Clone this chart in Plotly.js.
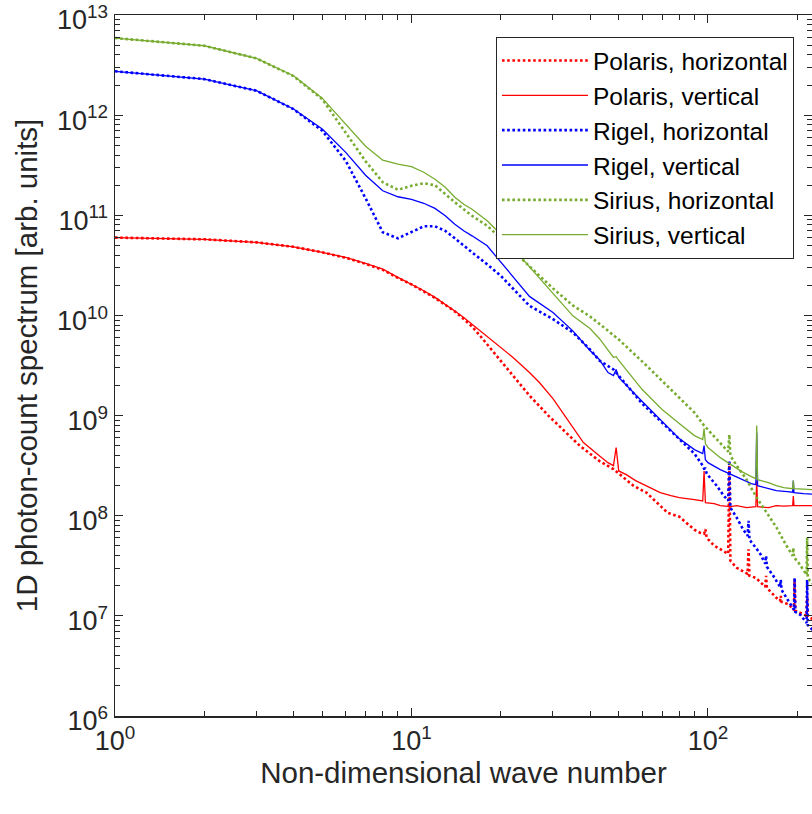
<!DOCTYPE html>
<html>
<head>
<meta charset="utf-8">
<script src="https://cdn.plot.ly/plotly-3.0.1.min.js"></script>
<style>
html,body{margin:0;padding:0;background:#fff;overflow:hidden;}
#chart{width:812px;height:814px;}
</style>
</head>
<body>
<div id="chart"></div>
<script>
// Wave numbers and log10(spectrum) values
const polarisHK = [1,2,3,4,5,6,7,8,9,10,11,12,13,14,15,16,17,18,19,21,22,25,29,37,43,48,56,62,69,73,80,90,94,97,98,99,105,110,115,117,118,119,125,135,136,137,138,145,150,156,157,158,170,175,176,177,187,195,196,197,210,215,216,217,225];
const polarisHLog = [10.777,10.76,10.73,10.685,10.63,10.575,10.515,10.455,10.375,10.31,10.24,10.175,10.105,10.04,9.965,9.89,9.80,9.71,9.63,9.47,9.40,9.20,8.997,8.697,8.547,8.465,8.30,8.23,8.10,8.03,7.99,7.86,7.83,7.82,7.865,7.78,7.70,7.665,7.63,7.62,8.53,7.55,7.48,7.43,7.42,7.665,7.40,7.38,7.34,7.29,7.40,7.28,7.18,7.15,7.20,7.14,7.115,7.06,7.366,7.05,7.016,7.00,7.20,6.99,6.97];

const polarisVK = [1,2,3,4,5,6,7,8,9,10,11,12,13,14,15,16,17,18,20,22,25,27,30,33,38,43,46,48,49,50,53,57,60,63,69,75,80,90,96,97,98,105,110,119,125,135,145,146,147,160,170,180,193,194,195,210,225];
const polarisVLog = [10.777,10.76,10.73,10.685,10.63,10.58,10.52,10.463,10.38,10.313,10.246,10.18,10.113,10.045,9.98,9.913,9.85,9.79,9.68,9.58,9.43,9.33,9.17,8.99,8.73,8.60,8.53,8.50,8.68,8.447,8.41,8.35,8.32,8.29,8.23,8.20,8.18,8.16,8.148,8.447,8.13,8.12,8.10,8.09,8.10,8.08,8.09,8.35,8.09,8.08,8.10,8.095,8.10,8.197,8.10,8.10,8.10];

const rigelHK = [1,2,3,4,5,6,7,8,9,10,11,12,13,14,15,16,18,20,25,30,35,40,43,48,60,70,78,90,96,97,98,99,107,113,117,118,119,125,131,136,137,138,145,150,156,157,158,166,175,176,177,190,195,196,197,205,215,216,217,225];
const rigelHLog = [12.438,12.36,12.244,12.06,11.844,11.544,11.17,10.83,10.77,10.835,10.89,10.89,10.845,10.77,10.695,10.63,10.51,10.396,10.096,9.963,9.83,9.66,9.55,9.46,9.12,8.93,8.80,8.62,8.50,8.47,8.47,8.42,8.30,8.20,8.15,8.55,8.08,7.98,7.87,7.80,7.95,7.76,7.68,7.62,7.52,7.60,7.49,7.40,7.29,7.36,7.26,7.12,7.06,7.38,7.04,7.01,6.93,7.36,6.91,6.86];

const rigelVK = [1,2,3,4,5,6,7,8,9,10,11,12,13,14,15,16,18,20,25,30,35,40,43,46,48,49,50,60,69,80,90,96,97,98,100,110,119,130,140,145,146,147,160,170,185,193,194,195,210,225];
const rigelVLog = [12.438,12.36,12.244,12.061,11.861,11.628,11.40,11.245,11.185,11.16,11.12,11.069,10.995,10.91,10.845,10.795,10.695,10.53,10.19,10.03,9.846,9.65,9.56,9.43,9.40,9.46,9.38,9.14,8.964,8.77,8.66,8.62,8.70,8.56,8.53,8.46,8.415,8.36,8.32,8.31,8.83,8.30,8.27,8.25,8.24,8.235,8.35,8.23,8.22,8.215];

const siriusHK = [1,2,3,4,5,6,7,8,9,10,11,12,13,14,15,16,18,20,25,30,35,40,45,50,62,70,80,90,97,105,115,117,118,119,125,135,146,158,170,184,193,194,195,200,210,215,216,217,225];
const siriusHLog = [12.77,12.693,12.567,12.39,12.16,11.82,11.54,11.33,11.255,11.295,11.32,11.30,11.21,11.13,11.06,10.995,10.895,10.77,10.49,10.27,10.10,9.99,9.87,9.76,9.50,9.35,9.18,9.03,8.90,8.79,8.66,8.64,8.81,8.60,8.50,8.36,8.18,8.03,7.885,7.70,7.60,7.68,7.58,7.55,7.45,7.41,7.78,7.38,7.32];

const siriusVK = [1,2,3,4,5,6,7,8,9,10,11,12,13,14,15,16,18,20,25,30,35,40,43,48,49,50,60,70,80,90,96,97,98,100,110,119,130,140,145,146,147,160,170,180,193,194,195,210,225];
const siriusVLog = [12.77,12.693,12.567,12.394,12.17,11.911,11.69,11.55,11.51,11.485,11.43,11.36,11.28,11.18,11.11,11.06,10.945,10.81,10.48,10.22,9.996,9.87,9.77,9.58,9.59,9.55,9.26,9.06,8.92,8.80,8.76,8.87,8.72,8.68,8.58,8.515,8.44,8.39,8.37,8.90,8.36,8.33,8.30,8.28,8.27,8.35,8.27,8.265,8.26];

const seriesNames = ['Polaris, horizontal','Polaris, vertical','Rigel, horizontal','Rigel, vertical','Sirius, horizontal','Sirius, vertical'];

const xTickVals = [1, 10, 100];
const xTickText = ['10<sup>0</sup>','10<sup>1</sup>','10<sup>2</sup>'];
const yTickVals = [1e6,1e7,1e8,1e9,1e10,1e11,1e12,1e13];
const yTickText = ['10<sup>6</sup>','10<sup>7</sup>','10<sup>8</sup>','10<sup>9</sup>','10<sup>10</sup>','10<sup>11</sup>','10<sup>12</sup>','10<sup>13</sup>'];

const RED = '#ff0000', BLUE = '#0000ff', GREEN = '#77ac30';
const FONT = 'Liberation Sans, Arial, Helvetica, sans-serif';
const toVal = arr => arr.map(v => Math.pow(10, v));

function tr(k, logv, name, color, dotted) {
  return {
    x: k, y: toVal(logv), name: name, type: 'scatter', mode: 'lines',
    line: dotted ? {color: color, width: 2.6, dash: '2.6px,2.6px'} : {color: color, width: 1.3},
    hoverinfo: 'skip'
  };
}

const data = [
  tr(polarisHK, polarisHLog, seriesNames[0], RED, true),
  tr(polarisVK, polarisVLog, seriesNames[1], RED, false),
  tr(rigelHK, rigelHLog, seriesNames[2], BLUE, true),
  tr(rigelVK, rigelVLog, seriesNames[3], BLUE, false),
  tr(siriusHK, siriusHLog, seriesNames[4], GREEN, true),
  tr(siriusVK, siriusVLog, seriesNames[5], GREEN, false)
];

const axisCommon = {
  showgrid: false, zeroline: false,
  showline: true, linecolor: '#262626', linewidth: 1.5,
  mirror: 'ticks', ticks: 'inside', ticklen: 8, tickwidth: 1, tickcolor: '#262626',
  tickfont: {family: FONT, size: 27, color: '#262626'},
  ticklabeloverflow: 'allow',
  minor: {ticks: 'inside', ticklen: 5, tickwidth: 1, tickcolor: '#262626', dtick: 'D1', showgrid: false}
};

const layout = {
  width: 812, height: 814,
  margin: {l: 115, r: 0, t: 15, b: 98},
  paper_bgcolor: '#fff', plot_bgcolor: '#fff',
  font: {family: FONT, color: '#262626'},
  showlegend: true,
  xaxis: Object.assign({}, axisCommon, {
    type: 'log', range: [0, 2.3508],
    tickmode: 'array', tickvals: xTickVals, ticktext: xTickText,
    title: {text: 'Non-dimensional wave number', font: {family: FONT, size: 29.5, color: '#262626'}, standoff: 0}
  }),
  yaxis: Object.assign({}, axisCommon, {
    type: 'log', range: [6, 13.00002],
    tickmode: 'array', tickvals: yTickVals, ticktext: yTickText,
    ticklabelshift: 5,
    title: {text: '1D photon-count spectrum [arb. units]', font: {family: FONT, size: 29.5, color: '#262626'}, standoff: 10}
  }),
  legend: {
    x: 0.5466, y: 0.9686, xanchor: 'left', yanchor: 'top',
    bgcolor: '#ffffff', bordercolor: '#262626', borderwidth: 1,
    font: {family: FONT, size: 24.5, color: '#000'},
    itemwidth: 86, tracegroupgap: 0
  }
};

Plotly.newPlot('chart', data, layout, {staticPlot: true, displayModeBar: false});
</script>
</body>
</html>
